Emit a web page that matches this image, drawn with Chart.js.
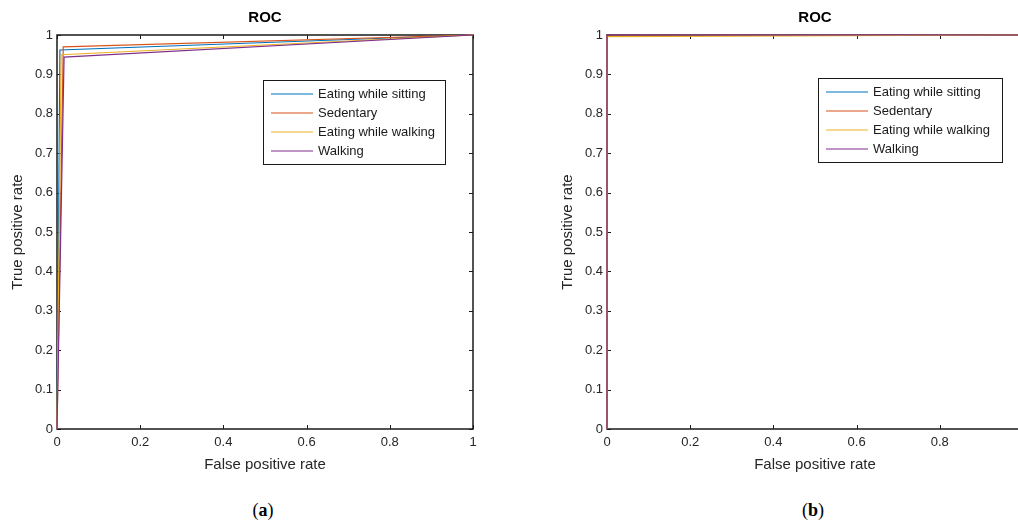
<!DOCTYPE html>
<html><head><meta charset="utf-8">
<script src="https://cdn.jsdelivr.net/npm/chart.js@4/dist/chart.umd.min.js"></script>
<style>
html,body{margin:0;padding:0;background:#fff;width:1018px;height:524px;overflow:hidden;position:relative;}
canvas{position:absolute;top:0;}
#ca{left:0px}
#cb{left:550px}
.cap{position:absolute;top:500px;font-family:'Liberation Serif','DejaVu Serif',serif;font-size:18px;color:#000;transform:translateX(-50%);line-height:20px;}
</style></head><body>
<canvas id="ca" width="500" height="480"></canvas>
<canvas id="cb" width="500" height="480"></canvas>
<div class="cap" style="left:263px">(<b>a</b>)</div>
<div class="cap" style="left:813px">(<b>b</b>)</div>
<script>
// ---- data ----
const seriesNames = ['Eating while sitting', 'Sedentary', 'Eating while walking', 'Walking'];
const seriesColors = ['#0072BD', '#D95319', '#EDB120', '#7E2F8E'];
const chartTitle = 'ROC';
const xTitle = 'False positive rate';
const yTitle = 'True positive rate';

// (a)
const aSittingFpr = [0, 0.007, 1];
const aSittingTpr = [0, 0.962, 1];
const aSedentaryFpr = [0, 0.015, 1];
const aSedentaryTpr = [0, 0.970, 1];
const aEatWalkFpr = [0, 0.010, 1];
const aEatWalkTpr = [0, 0.950, 1];
const aWalkingFpr = [0, 0.017, 1];
const aWalkingTpr = [0, 0.944, 1];

// (b)
const bSittingFpr = [0, 0, 1];
const bSittingTpr = [0, 1, 1];
const bSedentaryFpr = [0, 0, 1];
const bSedentaryTpr = [0, 1, 1];
const bEatWalkFpr = [0, 0, 1];
const bEatWalkTpr = [0, 0.996, 1];
const bWalkingFpr = [0, 0, 1];
const bWalkingTpr = [0, 1, 1];

const xTickStep = 0.2;
const yTickStep = 0.1;

// ---- helpers ----
const FONT = "'Liberation Sans', Arial, sans-serif";
function pts(xs, ys) { return xs.map((x, i) => ({x: x, y: ys[i]})); }
function fmt(v) { return String(Number(v.toFixed(2))); }
function makeDatasets(pairs) {
  return pairs.map((p, i) => ({
    label: seriesNames[i],
    data: pts(p[0], p[1]),
    showLine: true,
    borderColor: seriesColors[i],
    backgroundColor: seriesColors[i],
    borderWidth: 1.2,
    pointRadius: 0,
    tension: 0,
    fill: false,
    clip: 3,
    order: pairs.length - i
  }));
}

const framePlugin = {
  id: 'frame',
  beforeDatasetsDraw(chart) {
    const {ctx, chartArea: a, scales} = chart;
    ctx.save();
    ctx.strokeStyle = '#1a1a1a';
    ctx.lineWidth = 1.5;
    ctx.strokeRect(a.left, a.top, a.right - a.left, a.bottom - a.top);
    ctx.lineWidth = 1;
    const tl = 4;
    ctx.beginPath();
    scales.x.ticks.forEach(t => {
      const px = Math.round(scales.x.getPixelForValue(t.value)) + 0.5;
      ctx.moveTo(px, a.bottom); ctx.lineTo(px, a.bottom - tl);
      ctx.moveTo(px, a.top); ctx.lineTo(px, a.top + tl);
    });
    scales.y.ticks.forEach(t => {
      const py = Math.round(scales.y.getPixelForValue(t.value)) + 0.5;
      ctx.moveTo(a.left, py); ctx.lineTo(a.left + tl, py);
      ctx.moveTo(a.right, py); ctx.lineTo(a.right - tl, py);
    });
    ctx.stroke();
    ctx.restore();
  },
  afterDraw(chart) {
    const {ctx, chartArea: a} = chart;
    const o = chart.options.plugins.frame;
    ctx.save();
    // title
    ctx.fillStyle = '#000';
    ctx.font = 'bold 15px ' + FONT;
    ctx.textAlign = 'center';
    ctx.textBaseline = 'middle';
    ctx.fillText(chartTitle, (a.left + a.right) / 2, a.top - 17);
    // legend
    const w = o.legW, h = 84;
    const bx = a.right - o.legRight - w;
    const by = a.top + o.legTop;
    ctx.fillStyle = '#fff';
    ctx.fillRect(bx, by, w, h);
    ctx.strokeStyle = '#1a1a1a';
    ctx.lineWidth = 1;
    ctx.strokeRect(Math.round(bx) + 0.5, Math.round(by) + 0.5, w, h);
    ctx.font = '13px ' + FONT;
    ctx.textAlign = 'left';
    ctx.textBaseline = 'middle';
    seriesNames.forEach((n, i) => {
      const ry = by + 14 + i * 19;
      ctx.strokeStyle = seriesColors[i];
      ctx.lineWidth = 1.2;
      ctx.beginPath();
      ctx.moveTo(bx + 8, ry); ctx.lineTo(bx + 50, ry);
      ctx.stroke();
      ctx.fillStyle = '#1a1a1a';
      ctx.fillText(n, bx + 55, ry + 0.5);
    });
    ctx.restore();
  }
};

function makeChart(id, pairs, leg) {
  return new Chart(document.getElementById(id), {
    type: 'scatter',
    data: {datasets: makeDatasets(pairs)},
    plugins: [framePlugin],
    options: {
      responsive: false,
      animation: false,
      layout: {padding: {top: 35, right: 27, left: 0, bottom: 0}},
      plugins: {
        legend: {display: false},
        title: {display: false},
        tooltip: {enabled: false},
        frame: leg
      },
      scales: {
        x: {
          type: 'linear', min: 0, max: 1,
          grid: {display: false, drawTicks: false, tickLength: 0},
          border: {display: false},
          ticks: {stepSize: xTickStep, color: '#262626', font: {family: FONT, size: 13}, padding: 6, maxRotation: 0, callback: fmt},
          title: {display: true, text: xTitle, color: '#262626', font: {family: FONT, size: 15}, padding: {top: 0, bottom: 6}},
          afterFit(s) { s.height = 51; }
        },
        y: {
          type: 'linear', min: 0, max: 1,
          grid: {display: false, drawTicks: false, tickLength: 0},
          border: {display: false},
          ticks: {stepSize: yTickStep, color: '#262626', font: {family: FONT, size: 13}, padding: 4, callback: fmt},
          title: {display: true, text: yTitle, color: '#262626', font: {family: FONT, size: 15}, padding: {top: 9, bottom: 0}},
          afterFit(s) { s.width = 57; }
        }
      }
    }
  });
}

makeChart('ca', [
  [aSittingFpr, aSittingTpr],
  [aSedentaryFpr, aSedentaryTpr],
  [aEatWalkFpr, aEatWalkTpr],
  [aWalkingFpr, aWalkingTpr]
], {legW: 182, legRight: 28, legTop: 45});

makeChart('cb', [
  [bSittingFpr, bSittingTpr],
  [bSedentaryFpr, bSedentaryTpr],
  [bEatWalkFpr, bEatWalkTpr],
  [bWalkingFpr, bWalkingTpr]
], {legW: 184, legRight: 21, legTop: 43});
</script>
</body></html>
